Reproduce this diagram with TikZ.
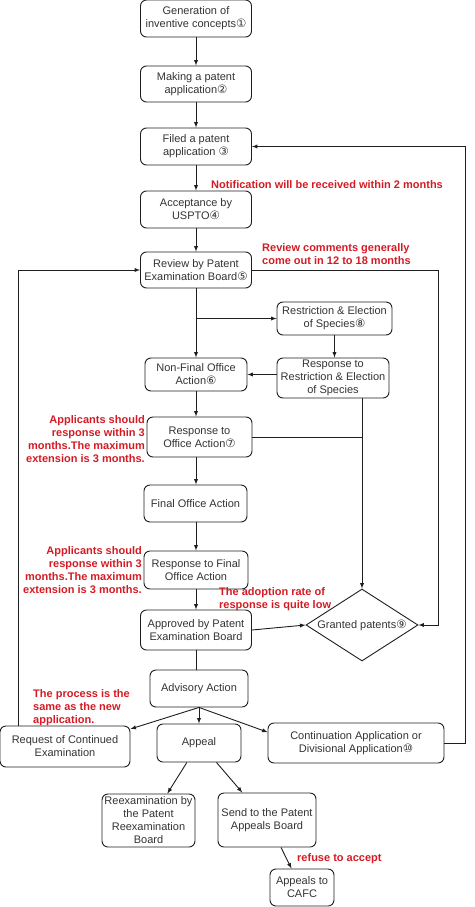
\documentclass[tikz,border=0pt]{standalone}
\usepackage{fontspec}
\setmainfont{Liberation Sans}
\newfontfamily\circfont{DejaVu Sans}
\usepackage{tikz}
\usetikzlibrary{shapes.geometric,arrows}
\definecolor{linegray}{HTML}{1E1E1E}
\definecolor{textgray}{HTML}{333333}
\definecolor{notered}{HTML}{D41B24}
\newcommand{\cnum}[1]{{\circfont\fontsize{11.5}{13}\selectfont #1}}

\begin{document}
\begin{tikzpicture}[x=1pt,y=-1pt,
                              box/.style={draw=linegray, line width=0.9pt, rounded corners=6pt, align=center,
                                          text=textgray, inner sep=1pt, font=\fontsize{11}{13}\selectfont},
                              note/.style={text=notered, inner sep=0pt, font=\fontsize{11}{13}\selectfont\bfseries},
                              flow/.style={draw=linegray, line width=0.9pt, -latex},
                              link/.style={draw=linegray, line width=0.9pt}]
                              \useasboundingbox (0,0) rectangle (474,907);

                              % Main column
                              \node[box, minimum width=111pt, minimum height=37pt] (gen) at (196,18.5) {Generation of\\inventive concepts\cnum{①}};
                              \node[box, minimum width=111pt, minimum height=36pt] (make) at (196,84) {Making a patent\\application\cnum{②}};
                              \node[box, minimum width=111pt, minimum height=37pt] (filed) at (196,146.5) {Filed a patent\\application \cnum{③}};
                              \node[box, minimum width=111pt, minimum height=37pt] (accept) at (196,209.5) {Acceptance by\\USPTO\cnum{④}};
                              \node[box, minimum width=111pt, minimum height=36pt] (review) at (196,270) {Review by Patent\\Examination Board\cnum{⑤}};
                              \node[box, minimum width=102pt, minimum height=33pt] (nonfinal) at (196,374.5) {Non-Final Office\\Action\cnum{⑥}};
                              \node[box, minimum width=105pt, minimum height=40pt] (respoa) at (199.5,437) {Response to\\Office Action\cnum{⑦}};
                              \node[box, minimum width=103pt, minimum height=37pt] (finaloa) at (195.5,503.5) {Final Office Action};
                              \node[box, minimum width=104pt, minimum height=38pt] (respfinal) at (196,570) {Response to Final\\Office Action};
                              \node[box, minimum width=111pt, minimum height=40pt] (approved) at (196,630) {Approved by Patent\\Examination Board};
                              \node[box, minimum width=98pt, minimum height=37pt] (advisory) at (199,688.5) {Advisory Action};

                              % Restriction branch and grant
                              \node[box, minimum width=115pt, minimum height=33pt] (restr) at (334.5,318.5) {Restriction \& Election\\of Species\cnum{⑧}};
                              \node[box, minimum width=112pt, minimum height=40pt] (resprestr) at (333,378) {Response to\\Restriction \& Election\\of Species};
                              \node[box, diamond, aspect=1.55, rounded corners=0pt, inner sep=0pt, minimum width=112pt, minimum height=72pt] (granted) at (362,625) {Granted patents\cnum{⑨}};

                              % After advisory action
                              \node[box, minimum width=130pt, minimum height=41pt] (rce) at (65,746.5) {Request of Continued\\Examination};
                              \node[box, minimum width=84pt, minimum height=38pt] (appeal) at (199,743) {Appeal};
                              \node[box, minimum width=176pt, minimum height=40pt] (cont) at (356,743) {Continuation Application or\\Divisional Application\cnum{⑩}};
                              \node[box, minimum width=93pt, minimum height=53pt] (reexam) at (148.5,820.5) {Reexamination by\\the Patent\\Reexamination\\Board};
                              \node[box, minimum width=98pt, minimum height=54pt] (send) at (267,820) {Send to the Patent\\Appeals Board};
                              \node[box, minimum width=64pt, minimum height=37pt] (cafc) at (302,887.5) {Appeals to\\CAFC};

                              % Red notes
                              \node[note, anchor=west] (ntwo) at (211,185) {Notification will be received within 2 months};
                              \node[note, anchor=west, align=left] (nreview) at (262,254) {Review comments generally\\come out in 12 to 18 months};
                              \node[note, anchor=east, align=right] (nrespa) at (145,439.5) {Applicants should\\response within 3\\months.The maximum\\extension is 3 months.};
                              \node[note, anchor=east, align=right] (nrespb) at (142,570) {Applicants should\\response within 3\\months.The maximum\\extension is 3 months.};
                              \node[note, anchor=west, align=left] (nadopt) at (219,599) {The adoption rate of\\response is quite low};
                              \node[note, anchor=west, align=left] (nsame) at (33,708) {The process is the\\same as the new\\application.};
                              \node[note, anchor=west] (nrefuse) at (297,859) {refuse to accept};

                              % Connectors of the main column
                              \draw[flow] (gen) -- (make);
                              \draw[flow] (make) -- (filed);
                              \draw[flow] (filed) -- (accept);
                              \draw[flow] (accept) -- (review);
                              \draw[flow] (review) -- (nonfinal);
                              \draw[flow] (nonfinal) -- (nonfinal.south |- respoa.north);
                              \draw[flow] (nonfinal.south |- respoa.south) -- (finaloa.north -| nonfinal.south);
                              \draw[flow] (finaloa.south -| nonfinal.south) -- (respfinal);
                              \draw[flow] (respfinal) -- (approved);
                              \draw[link] (approved) -- (approved.south |- advisory.north);

                              % Restriction branch
                              \coordinate (split) at (196,318.5);
                              \draw[flow] (split) -- (restr.west);
                              \draw[flow] (restr) -- (restr.south |- resprestr.north);
                              \draw[flow] (resprestr.west |- nonfinal.east) -- (nonfinal.east);
                              \draw[flow] (granted.north |- resprestr.south) -- (granted.north);
                              \draw[link] (respoa.east) -- (respoa.east -| granted.north);

                              % Grant and loops back
                              \draw[flow] (approved.east) -- (granted.west);
                              \draw[flow] (review.east) -- ++(186.5,0) |- (granted.east);
                              \draw[flow] (cont.east) -- ++(21,0) |- (filed.east);
                              \draw[flow] ([xshift=19pt]rce.north west) |- (review.west);

                              % Advisory action and appeal
                              \draw[flow] (advisory.south) -- (rce.15);
                              \draw[flow] (advisory) -- (advisory.south |- appeal.north);
                              \draw[flow] (advisory.south) -- (cont.173);
                              \draw[flow] (appeal.238) -- (reexam.55);
                              \draw[flow] (appeal.312) -- (send.132);
                              \draw[flow] (send.297) -- (cafc.119);
                        \end{tikzpicture}
\end{document}
